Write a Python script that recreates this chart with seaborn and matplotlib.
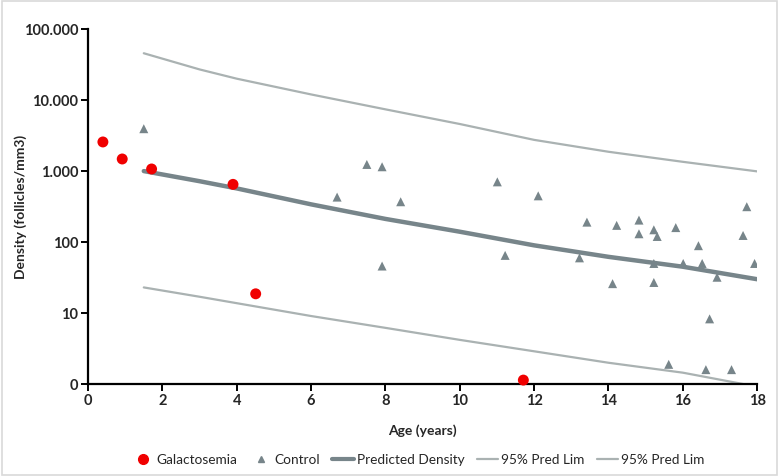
import matplotlib
matplotlib.use("Agg")
import matplotlib.pyplot as plt
import matplotlib.patches as mpatches
from matplotlib.lines import Line2D
import seaborn as sns
import pandas as pd

# данные
gal_age = [0.4, 0.92, 1.71, 3.9, 4.51, 11.71]
gal_density = [2570, 1480, 1070, 650, 18.7, 1.14]

ctrl_age = [1.5, 7.5, 7.91, 6.7, 8.41, 7.91, 11.01, 11.22, 12.11, 13.42, 13.22,
            14.22, 14.11, 14.82, 14.82, 15.22, 15.31, 15.22, 15.22, 15.81, 15.62,
            16.01, 16.42, 16.52, 16.72, 16.62, 16.92, 17.31, 17.72, 17.62, 17.93]
ctrl_density = [3950, 1240, 1150, 430, 370, 46, 705, 65, 448, 191, 60,
                172, 26, 204, 131, 149, 120, 50, 27, 160, 1.9,
                50, 89, 50, 8.3, 1.6, 32, 1.6, 315, 124, 50]

line_age = [1.5, 3, 4, 6, 8, 10, 12, 14, 16, 18]
pred_density = [1000, 720, 570, 340, 212, 140, 90, 62, 45, 30]
upper_lim = [45600, 27000, 20000, 12000, 7400, 4600, 2750, 1870, 1350, 990]
lower_lim = [23, 17, 13.8, 9.1, 6.2, 4.2, 2.9, 2.0, 1.45, 0.92]

y_ticks = [1, 10, 100, 1000, 10000, 100000]
y_tick_labels = ["0", "10", "100", "1.000", "10.000", "100.000"]
x_ticks = [0, 2, 4, 6, 8, 10, 12, 14, 16, 18]

sns.set_style("white")
plt.rcParams['font.family'] = ['Lato', 'DejaVu Sans']

red = "#f00000"
dark = "#77858a"
light = "#aab2b2"

fig = plt.figure(figsize=(7.79, 4.76), dpi=100)
ax = fig.add_axes([0.113, 0.193, 0.859, 0.746])

lines = pd.DataFrame({"age": line_age, "pred": pred_density,
                      "up": upper_lim, "low": lower_lim})
sns.lineplot(data=lines, x="age", y="up", ax=ax, color=light, lw=1.6)
sns.lineplot(data=lines, x="age", y="low", ax=ax, color=light, lw=1.6)
sns.lineplot(data=lines, x="age", y="pred", ax=ax, color=dark, lw=3.2)

sns.scatterplot(x=ctrl_age, y=ctrl_density, ax=ax, marker="^", s=42,
                color=dark, edgecolor="none", zorder=3)
sns.scatterplot(x=gal_age, y=gal_density, ax=ax, marker="o", s=62,
                color=red, edgecolor="none", zorder=4, clip_on=False)

ax.set_yscale("log")
ax.set_ylim(1, 100000)
ax.set_xlim(0, 18)
ax.set_yticks(y_ticks)
ax.set_yticklabels(y_tick_labels)
ax.yaxis.set_minor_locator(matplotlib.ticker.NullLocator())
ax.set_xticks(x_ticks)

for s in ["top", "right"]:
    ax.spines[s].set_visible(False)
for s in ["left", "bottom"]:
    ax.spines[s].set_color("black")
    ax.spines[s].set_linewidth(1.6)

ax.tick_params(axis="both", direction="out", length=5, width=1.4,
               color="black", labelsize=10.5, pad=2)
ax.tick_params(axis="both", which="both", bottom=True, left=True)
for lab in ax.get_xticklabels() + ax.get_yticklabels():
    lab.set_fontweight("bold")

ax.set_xlabel("Age (years)", fontsize=10, fontweight="bold", labelpad=12)
ax.set_ylabel("Density (follicles/mm3)", fontsize=10, fontweight="bold")
ax.yaxis.set_label_coords(-0.091, 0.5)

handles = [
    Line2D([], [], marker="o", color=red, ls="none", markersize=7),
    Line2D([], [], marker="^", color=dark, ls="none", markersize=5),
    Line2D([], [], color=dark, lw=3),
    Line2D([], [], color=light, lw=1.6),
    Line2D([], [], color=light, lw=1.6),
]
labels = ["Galactosemia", "Control", "Predicted Density", "95% Pred Lim", "95% Pred Lim"]
fig.legend(handles, labels, loc="center", bbox_to_anchor=(0.537, 0.034), ncol=5,
           frameon=False, fontsize=9.8, handlelength=1.6, handletextpad=0.2,
           columnspacing=0.9)

fig.patches.append(mpatches.Rectangle((0.002, 0.003), 0.995, 0.994, transform=fig.transFigure,
                                      fill=False, edgecolor="#d9d9d9", lw=1.2))

fig.savefig("out.png", dpi=100)
